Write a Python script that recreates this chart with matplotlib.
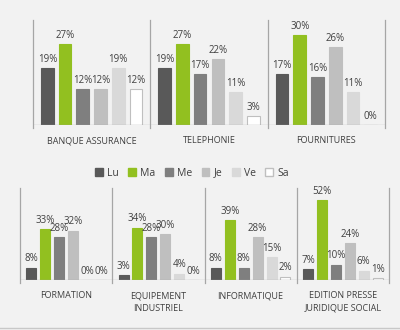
import matplotlib.pyplot as plt
from matplotlib.patches import Patch
import numpy as np

plt.rcParams["font.family"] = ["Open Sans", "DejaVu Sans"]

days = ["Lu", "Ma", "Me", "Je", "Ve", "Sa"]
day_colors = ["#595959", "#92c020", "#7f7f7f", "#bfbfbf", "#d9d9d9", "#ffffff"]

top_sectors = ["BANQUE ASSURANCE", "TELEPHONIE", "FOURNITURES"]
top_values = [
    [19, 27, 12, 12, 19, 12],
    [19, 27, 17, 22, 11, 3],
    [17, 30, 16, 26, 11, 0],
]

bottom_sectors = ["FORMATION", "EQUIPEMENT\nINDUSTRIEL", "INFORMATIQUE",
                  "EDITION PRESSE\nJURIDIQUE SOCIAL"]
bottom_values = [
    [8, 33, 28, 32, 0, 0],
    [3, 34, 28, 30, 4, 0],
    [8, 39, 8, 28, 15, 2],
    [7, 52, 10, 24, 6, 1],
]

BG = "#f2f2f2"
LINE = "#a6a6a6"
TEXT = "#404040"


def draw_panel(ax, sectors, values, ymax):
    ax.set_facecolor(BG)
    n = len(sectors)
    step = 0.151
    width = 0.108
    for g, vals in enumerate(values):
        for i, v in enumerate(vals):
            x = g + (i - 2.5) * step
            edge = "#bfbfbf" if i == 5 else day_colors[i]
            ax.bar(x, v, width=width, color=day_colors[i], edgecolor=edge,
                   linewidth=0.8)
            ax.annotate(f"{v}%", (x, v), xytext=(0, 2.5),
                        textcoords="offset points", ha="center", va="bottom",
                        fontsize=7, color=TEXT)
    ax.set_xlim(-0.5, n - 0.5)
    ax.set_ylim(0, ymax)
    for b in np.arange(n + 1) - 0.5:
        ax.plot([b, b], [-0.03 * ymax, ymax], color=LINE, lw=0.9,
                clip_on=False)
    ax.axhline(0, color=LINE, lw=0.9)
    for s in ax.spines.values():
        s.set_visible(False)
    ax.set_xticks([])
    ax.set_yticks([])
    for g, name in enumerate(sectors):
        ax.annotate(name, (g, 0), xytext=(0, -8), textcoords="offset points",
                    ha="center", va="top", fontsize=6.5, color=TEXT,
                    linespacing=1.5)


fig = plt.figure(figsize=(4, 3.3), dpi=100, facecolor=BG)

ax_top = fig.add_axes([33 / 400, 205 / 330, 352 / 400, 105 / 330])
draw_panel(ax_top, top_sectors, top_values, 35)

ax_bot = fig.add_axes([20 / 400, 50 / 330, 369 / 400, 92 / 330])
draw_panel(ax_bot, bottom_sectors, bottom_values, 60)

handles = [Patch(facecolor=c, edgecolor="#bfbfbf" if i == 5 else c)
           for i, c in enumerate(day_colors)]
fig.legend(handles, days, loc="center", bbox_to_anchor=(192 / 400, 157 / 330),
           ncol=6, frameon=False, fontsize=7.5, handlelength=0.75,
           handleheight=0.75, handletextpad=0.4, columnspacing=0.9,
           labelcolor=TEXT)

# thin frame line along the bottom edge
fig.add_artist(plt.Line2D([0, 1], [2 / 330, 2 / 330], color="#c8c8c8",
                          lw=1.0))

fig.savefig("out.png", dpi=100, facecolor=BG)
